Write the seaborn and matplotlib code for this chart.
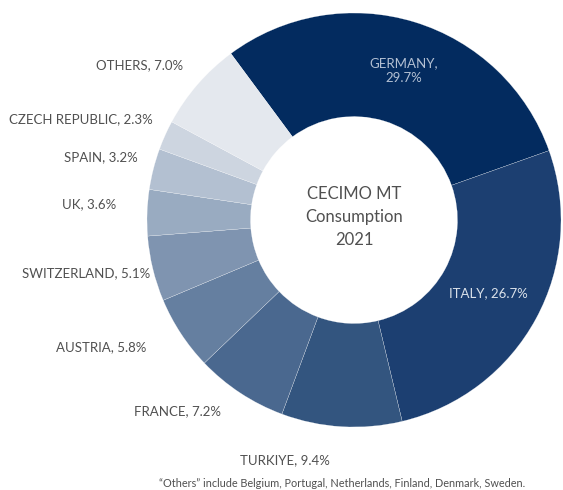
import numpy as np
import seaborn as sns
import matplotlib.pyplot as plt

# data
countries = ["GERMANY", "ITALY", "TURKIYE", "FRANCE", "AUSTRIA",
             "SWITZERLAND", "UK", "SPAIN", "CZECH REPUBLIC", "OTHERS"]
shares = [29.7, 26.7, 9.4, 7.2, 5.8, 5.1, 3.6, 3.2, 2.3, 7.0]
colors = ["#032b5f", "#1c3f71", "#33557f", "#4a688f", "#657fa0",
          "#7f94b0", "#99abc1", "#b3c0d1", "#cdd5e0", "#e4e8ee"]
center_title = "CECIMO MT\nConsumption\n2021"
footnote = "\u201cOthers\u201d include Belgium, Portugal, Netherlands, Finland, Denmark, Sweden."

# layout (pixels, origin top-left)
W, H = 563, 490
cx, cy, R = 354, 220, 207
start_angle = 126.5
# outside label anchors (x, y, ha)
outside_pos = {
    "TURKIYE": (285, 460, "center"),
    "FRANCE": (221, 411, "right"),
    "AUSTRIA": (146, 347, "right"),
    "SWITZERLAND": (150, 273, "right"),
    "UK": (116, 204, "right"),
    "SPAIN": (138, 157, "right"),
    "CZECH REPUBLIC": (153, 119, "right"),
    "OTHERS": (183, 65, "right"),
}

sns.set_theme(style="white")
plt.rcParams['font.family'] = ['Lato', 'DejaVu Sans']

fig = plt.figure(figsize=(W / 100, H / 100), dpi=100)
ax = fig.add_axes([0, 0, 1, 1])

ax.pie(shares, colors=colors, startangle=start_angle, counterclock=False,
       radius=1.0, wedgeprops=dict(width=0.5, edgecolor="white", linewidth=0.15))

ax.set_xlim(-cx / R, (W - cx) / R)
ax.set_ylim(-(H - cy) / R, cy / R)
ax.set_aspect("equal", adjustable="datalim")
ax.axis("off")


def px(x, y):
    return (x - cx) / R, (cy - y) / R


txt_kw = dict(fontsize=9.5, color="#505050", va="center")
for name, val in zip(countries, shares):
    label = f"{name}, {val:.1f}%"
    if name in outside_pos:
        x, y, ha = outside_pos[name]
        ax.text(*px(x, y), label, ha=ha, **txt_kw)

ax.text(*px(404, 71), "GERMANY,\n29.7%", ha="center", va="center",
        fontsize=9.5, color="#b3c0d3", linespacing=1.3)
ax.text(*px(488, 293), "ITALY, 26.7%", ha="center", va="center",
        fontsize=9.5, color="#dbe2ea")

ax.text(0, px(0, 217)[1], center_title, ha="center", va="center",
        fontsize=12, color="#505050", linespacing=1.55)

ax.text(*px(342, 483), footnote, ha="center", va="center",
        fontsize=7.8, color="#505050")

fig.savefig("out.png", dpi=100)
